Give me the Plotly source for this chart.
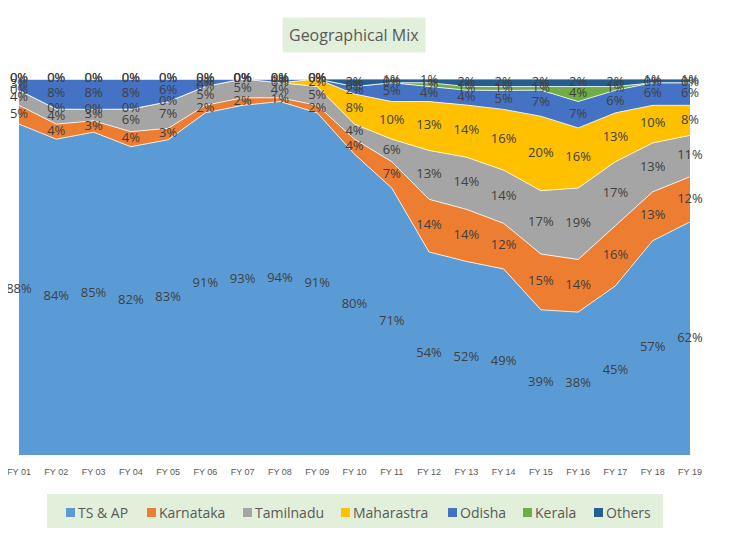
import numpy as np
import plotly.graph_objects as go

years = ["FY 01", "FY 02", "FY 03", "FY 04", "FY 05", "FY 06", "FY 07", "FY 08", "FY 09", "FY 10",
         "FY 11", "FY 12", "FY 13", "FY 14", "FY 15", "FY 16", "FY 17", "FY 18", "FY 19"]

ts_ap      = [88, 84, 85, 82, 83, 91, 93, 94, 91, 80, 71, 54, 52, 49, 39, 38, 45, 57, 62]
karnataka  = [5, 4, 3, 4, 3, 2, 2, 1, 2, 4, 7, 14, 14, 12, 15, 14, 16, 13, 12]
tamilnadu  = [4, 4, 3, 6, 7, 5, 5, 4, 5, 4, 6, 13, 14, 14, 17, 19, 17, 13, 11]
maharastra = [0, 0, 0, 0, 0, 0, 0, 0, 2, 8, 10, 13, 14, 16, 20, 16, 13, 10, 8]
odisha     = [3, 8, 8, 8, 6, 2, 0, 1, 0, 2, 5, 4, 4, 5, 7, 7, 6, 6, 6]
kerala     = [0, 0, 0, 0, 0, 0, 0, 0, 0, 0, 0, 1, 1, 1, 1, 4, 1, 0, 0]
others     = [0, 0, 0, 0, 0, 0, 0, 0, 0, 2, 1, 1, 2, 2, 2, 2, 2, 1, 1]

series = [
    ("TS & AP", ts_ap, "#5B9BD5"),
    ("Karnataka", karnataka, "#ED7D31"),
    ("Tamilnadu", tamilnadu, "#A5A5A5"),
    ("Maharastra", maharastra, "#FFC000"),
    ("Odisha", odisha, "#4472C4"),
    ("Kerala", kerala, "#70AD47"),
    ("Others", others, "#255E91"),
]

# the page body adds an 8px margin; size the figure so the page does not overflow
OFF = 8
W, H = 736 - OFF, 548 - 2 * OFF - 12
L, R, T, B = 19, 690, 79, 455          # plot area in page pixels
pw, ph = R - L, B - T


def px(xp):
    return (xp - L) / pw


def py(yp):
    return (B - yp) / ph


x = list(range(len(years)))
fig = go.Figure()

vals = np.array([s[1] for s in series], dtype=float)
totals = vals.sum(axis=0)
norm = vals / totals * 100
cum = np.cumsum(norm, axis=0)

for name, v, col in series:
    fig.add_trace(go.Scatter(
        x=x, y=v, name=name, stackgroup="one", groupnorm="percent",
        mode="lines", line=dict(color="white", width=0.8),
        fillcolor=col, hoverinfo="skip", showlegend=False,
    ))

for i, (name, v, col) in enumerate(series):
    mid = cum[i] - norm[i] / 2
    fig.add_trace(go.Scatter(
        x=x, y=mid, mode="text", text=[f"{int(t)}%" for t in v],
        textfont=dict(family="Open Sans, Noto Sans, sans-serif", size=13, color="#404040"),
        textposition="middle center", showlegend=False, cliponaxis=False, hoverinfo="skip",
    ))

# legend drawn as a row of swatches + labels inside a green box
legend_sq_x = [66, 147, 243, 341, 448, 523, 594]
shapes = [
    dict(type="rect", xref="paper", yref="paper", x0=px(47), x1=px(663), y0=py(530), y1=py(494),
         fillcolor="#E2EFDA", line=dict(width=0), layer="below"),
    dict(type="line", xref="paper", yref="paper", x0=px(732), x1=px(732),
         y0=py(OFF), y1=py(OFF + H), line=dict(color="#A6A6A6", width=4)),
]
annotations = [dict(text="Geographical Mix", xref="paper", yref="paper", x=px(354), y=py(35),
                    xanchor="center", yanchor="middle", showarrow=False, bgcolor="#E2EFDA", borderpad=6,
                    font=dict(family="Open Sans, Noto Sans, sans-serif", size=16, color="#595959"))]
for (name, v, col), sx in zip(series, legend_sq_x):
    shapes.append(dict(type="rect", xref="paper", yref="paper", x0=px(sx), x1=px(sx + 9),
                       y0=py(517), y1=py(508), fillcolor=col, line=dict(width=0)))
    annotations.append(dict(text=name, xref="paper", yref="paper", x=px(sx + 10), y=py(512.5),
                            xanchor="left", yanchor="middle", showarrow=False,
                            font=dict(family="Open Sans, Noto Sans, sans-serif", size=14, color="#595959")))

fig.update_layout(
    width=W, height=H,
    margin=dict(l=L - OFF, r=W - (R - OFF), t=T - OFF, b=H - (B - OFF), autoexpand=False),
    paper_bgcolor="white", plot_bgcolor="white",
    xaxis=dict(range=[0, 18], tickvals=x, ticktext=years, showgrid=False, zeroline=False,
               showline=False, ticks="", automargin=False, ticklabelstandoff=10,
               ticklabeloverflow="allow",
               tickfont=dict(family="Liberation Sans Narrow, Liberation Sans, sans-serif",
                             size=9, color="#595959")),
    yaxis=dict(range=[0, 100], visible=False, automargin=False),
    showlegend=False,
    annotations=annotations,
    shapes=shapes,
)

fig.write_html("out.html")
